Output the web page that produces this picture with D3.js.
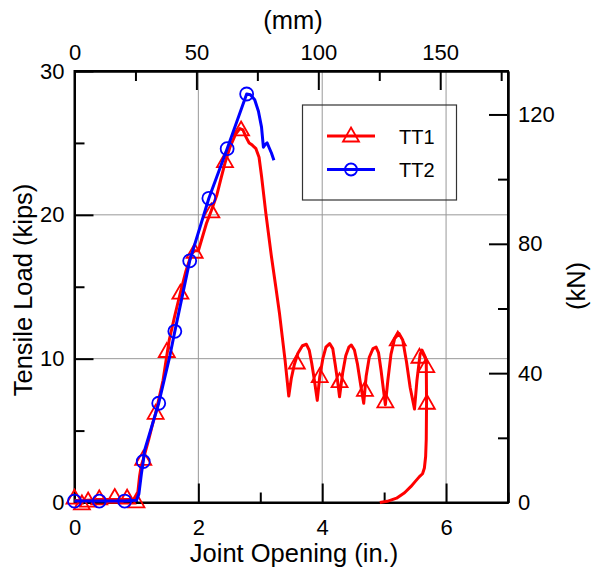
<!DOCTYPE html>
<html>
<head>
<meta charset="utf-8">
<script src="https://cdn.jsdelivr.net/npm/d3@7"></script>
<style>
  html, body { margin: 0; padding: 0; background: #fff; }
  svg { display: block; font-family: "Liberation Sans", Arial, sans-serif; }
</style>
</head>
<body>
<svg id="chart" width="597" height="571"></svg>
<script>
// Joint opening (in.) vs tensile load (kips), two tension tests
const tt1X = [0, 0.1, 0.2, 0.35, 0.55, 0.8, 0.98, 1.02, 1.05, 1.08, 1.11, 1.2, 1.27, 1.31, 1.43, 1.49, 1.53, 1.62, 1.71, 1.8, 1.89, 1.94, 2.0, 2.13, 2.21, 2.3, 2.37, 2.43, 2.51, 2.6, 2.67, 2.72, 2.77, 2.82, 2.87, 2.93, 2.98, 3.02, 3.09, 3.18, 3.25, 3.31, 3.4, 3.46,
  3.5, 3.55, 3.61, 3.68, 3.745, 3.79, 3.83, 3.87, 3.92,
  3.96, 4.01, 4.06, 4.12, 4.17, 4.21, 4.25, 4.28,
  4.33, 4.38, 4.43, 4.47, 4.52, 4.57, 4.62, 4.67,
  4.71, 4.76, 4.82, 4.87, 4.91, 4.95, 4.99, 5.02,
  5.06, 5.11, 5.17, 5.24, 5.3, 5.36, 5.42, 5.49,
  5.53, 5.58, 5.61, 5.65, 5.68, 5.685, 5.68, 5.67, 5.65, 5.62, 5.57, 5.5, 5.43, 5.33, 5.2, 5.05, 4.93];
const tt1Y = [0.15, 0.1, 0.15, 0.2, 0.2, 0.2, 0.2, 0.6, 1.8, 2.6, 3.0, 4.4, 5.6, 6.2, 8.5, 10.2, 11.3, 13.0, 14.6, 16.1, 17.3, 17.5, 17.5, 19.4, 20.3, 21.4, 22.6, 23.6, 24.7, 25.6, 26.0, 25.9, 25.4, 25.0, 24.85, 24.6, 24.0, 22.7, 20.1, 17.1, 15.0, 13.15, 9.9, 7.4,
  8.6, 9.6, 10.4, 10.9, 11.0, 10.6, 9.7, 8.6, 7.1,
  8.75, 10.0, 10.8, 11.05, 10.7, 9.6, 8.4, 7.35,
  9.0, 10.2, 10.8, 10.95, 10.6, 9.6, 8.2, 6.9,
  8.8, 10.1, 10.7, 10.8, 10.4, 9.2, 7.8, 6.8,
  8.5, 10.3, 11.4, 11.75, 11.3, 9.8, 8.0, 6.5,
  8.5, 10.3, 10.6, 10.25, 9.9, 7.0, 4.4, 3.2, 2.4, 2.0, 1.8, 1.45, 1.1, 0.68, 0.3, 0.08, 0];

const tt2X = [0, 0.4, 0.81, 1.0, 1.04, 1.08, 1.11, 1.13, 1.36, 1.54, 1.62, 1.86, 2.17, 2.465, 2.78, 2.84, 2.91, 2.97, 3.02, 3.05, 3.08, 3.11, 3.14, 3.18, 3.22];
const tt2Y = [0.1, 0.1, 0.1, 0.15, 0.6, 2.0, 2.85, 3.6, 6.9, 10.2, 11.9, 16.8, 21.15, 24.6, 28.4, 28.35, 28.0, 27.2, 26.1, 24.7, 24.9, 25.0, 24.7, 24.3, 23.8];

// Marker positions along each curve
const tt1MarkX = [0, 0.12, 0.22, 0.4, 0.65, 0.85, 1.0, 1.11, 1.31, 1.49, 1.71, 1.94, 2.21, 2.43, 2.69, 3.59, 3.96, 4.28, 4.69, 5.02, 5.22, 5.57, 5.68, 5.69];
const tt1MarkY = [0.3, -0.1, 0.1, 0.25, 0.35, 0.3, 0.05, 3.0, 6.2, 10.5, 14.55, 17.4, 20.2, 23.7, 25.9, 9.7, 8.75, 8.4, 7.8, 7.0, 11.3, 10.1, 9.45, 6.9];
const tt2MarkX = [0, 0.4, 0.81, 1.11, 1.36, 1.62, 1.86, 2.17, 2.465, 2.78];
const tt2MarkY = [0.1, 0.1, 0.1, 2.85, 6.9, 11.9, 16.8, 21.15, 24.6, 28.4];

const xTicksIn = [0, 2, 4, 6];
const xMinorIn = [1, 3, 5, 7];
const yTicksKips = [0, 10, 20, 30];
const yMinorKips = [5, 15, 25];
const mmTicks = [0, 50, 100, 150];
const mmMinor = [25, 75, 125, 175];
const kNTicks = [0, 40, 80, 120];
const kNMinor = [20, 60, 100];

const seriesNames = ["TT1", "TT2"];
const seriesColors = ["#ff0000", "#0000ff"];

const svg = d3.select("#chart");
const pL = 74.5, pR = 508, pT = 71, pB = 502.5;

const x = d3.scaleLinear().domain([0, 7]).range([pL, pR]);
const y = d3.scaleLinear().domain([0, 30]).range([pB, pT]);
const xmm = d3.scaleLinear().domain([0, 7 * 25.4]).range([pL, pR]);
const ykN = d3.scaleLinear().domain([0, 30 * 4.448]).range([pB, pT]);

const TICK_FS = 22, TITLE_FS = 25.5, LEG_FS = 20;

// grid lines
const grid = svg.append("g").attr("stroke", "#999").attr("stroke-width", 1);
[2, 4, 6].forEach(v => grid.append("line").attr("x1", x(v)).attr("x2", x(v)).attr("y1", pT).attr("y2", pB));
[10, 20].forEach(v => grid.append("line").attr("x1", pL).attr("x2", pR).attr("y1", y(v)).attr("y2", y(v)));

// axes with inward ticks
function drawAxis(axis, tr) {
  const g = svg.append("g").attr("transform", tr).call(axis);
  g.selectAll("path.domain").attr("stroke", "#000").attr("stroke-width", 2);
  g.selectAll(".tick line").attr("stroke", "#000").attr("stroke-width", 2);
  g.selectAll("text").attr("font-size", TICK_FS).attr("fill", "#000").attr("font-family", "Liberation Sans, Arial, sans-serif");
  return g;
}
const MAJ = 19, MIN = 10;
// bottom
drawAxis(d3.axisBottom(x).tickValues(xTicksIn).tickSizeInner(-MAJ).tickSizeOuter(0).tickPadding(17).tickFormat(d3.format("d")), `translate(0,${pB})`);
drawAxis(d3.axisBottom(x).tickValues(xMinorIn).tickSizeInner(-MIN).tickSizeOuter(0).tickFormat(""), `translate(0,${pB})`);
// top (mm)
drawAxis(d3.axisTop(xmm).tickValues(mmTicks).tickSizeInner(-MAJ).tickSizeOuter(0).tickPadding(11).tickFormat(d3.format("d")), `translate(0,${pT})`);
drawAxis(d3.axisTop(xmm).tickValues(mmMinor).tickSizeInner(-MIN).tickSizeOuter(0).tickFormat(""), `translate(0,${pT})`);
// left (kips)
drawAxis(d3.axisLeft(y).tickValues(yTicksKips).tickSizeInner(-MAJ).tickSizeOuter(0).tickPadding(10).tickFormat(d3.format("d")), `translate(${pL},0)`);
drawAxis(d3.axisLeft(y).tickValues(yMinorKips).tickSizeInner(-MIN).tickSizeOuter(0).tickFormat(""), `translate(${pL},0)`);
// right (kN)
drawAxis(d3.axisRight(ykN).tickValues(kNTicks).tickSizeInner(-MAJ).tickSizeOuter(0).tickPadding(10).tickFormat(d3.format("d")), `translate(${pR},0)`);
drawAxis(d3.axisRight(ykN).tickValues(kNMinor).tickSizeInner(-MIN).tickSizeOuter(0).tickFormat(""), `translate(${pR},0)`);

// frame
svg.append("rect").attr("x", pL).attr("y", pT).attr("width", pR - pL).attr("height", pB - pT)
  .attr("fill", "none").attr("stroke", "#000").attr("stroke-width", 2);

// axis titles
svg.append("text").attr("x", 294).attr("y", 562).attr("text-anchor", "middle").attr("font-size", TITLE_FS).text("Joint Opening (in.)");
svg.append("text").attr("x", 293).attr("y", 29).attr("text-anchor", "middle").attr("font-size", TITLE_FS).text("(mm)");
svg.append("text").attr("transform", `translate(32,290) rotate(-90)`).attr("text-anchor", "middle").attr("font-size", TITLE_FS).text("Tensile Load (kips)");
svg.append("text").attr("transform", `translate(585,286) rotate(-90)`).attr("text-anchor", "middle").attr("font-size", TITLE_FS).text("(kN)");

// curves
const line = d3.line().x(d => x(d[0])).y(d => y(d[1]));
const tt1 = d3.zip(tt1X, tt1Y), tt2 = d3.zip(tt2X, tt2Y);
const plot = svg.append("g");
const triPath = "M0,-8.5 L8,5.5 L-8,5.5 Z";

plot.append("path").datum(tt1).attr("d", line).attr("fill", "none").attr("stroke", seriesColors[0]).attr("stroke-width", 3).attr("stroke-linejoin", "round");
plot.selectAll("path.m1").data(d3.zip(tt1MarkX, tt1MarkY)).join("path").attr("class", "m1")
  .attr("d", triPath).attr("transform", d => `translate(${x(d[0])},${y(d[1])})`)
  .attr("fill", "none").attr("stroke", seriesColors[0]).attr("stroke-width", 1.8);

plot.append("path").datum(tt2).attr("d", line).attr("fill", "none").attr("stroke", seriesColors[1]).attr("stroke-width", 3).attr("stroke-linejoin", "round");
plot.selectAll("circle.m2").data(d3.zip(tt2MarkX, tt2MarkY)).join("circle").attr("class", "m2")
  .attr("cx", d => x(d[0])).attr("cy", d => y(d[1])).attr("r", 6.5)
  .attr("fill", "none").attr("stroke", seriesColors[1]).attr("stroke-width", 1.8);

// legend
const lg = svg.append("g");
lg.append("rect").attr("x", 302.5).attr("y", 105).attr("width", 154).attr("height", 95)
  .attr("fill", "none").attr("stroke", "#333").attr("stroke-width", 1.2);
seriesNames.forEach((name, i) => {
  const ly = 136 + i * 33.5;
  lg.append("line").attr("x1", 327).attr("x2", 375).attr("y1", ly).attr("y2", ly).attr("stroke", seriesColors[i]).attr("stroke-width", 3);
  if (i === 0) {
    lg.append("path").attr("d", triPath).attr("transform", `translate(351,${ly})`).attr("fill", "none").attr("stroke", seriesColors[i]).attr("stroke-width", 1.8);
  } else {
    lg.append("circle").attr("cx", 351).attr("cy", ly).attr("r", 6).attr("fill", "none").attr("stroke", seriesColors[i]).attr("stroke-width", 1.8);
  }
  lg.append("text").attr("x", 399).attr("y", ly + 7.5).attr("font-size", LEG_FS).text(name);
});
</script>
</body>
</html>
